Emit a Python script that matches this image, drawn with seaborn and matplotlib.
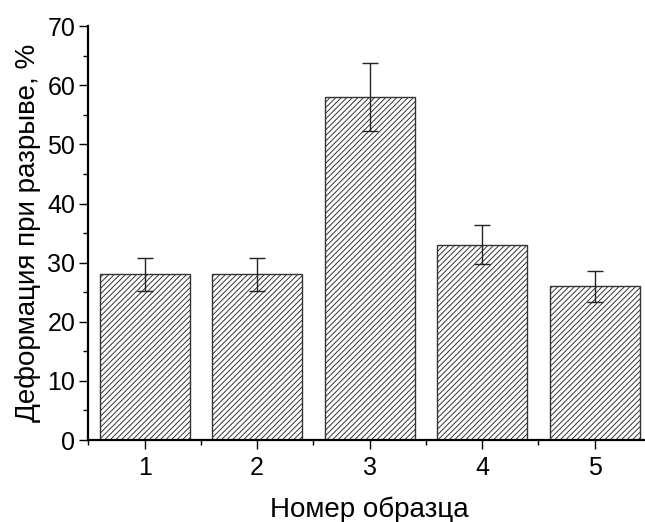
import numpy as np
import matplotlib
matplotlib.use('Agg')
import matplotlib.pyplot as plt
from matplotlib.ticker import MultipleLocator, FixedLocator
import seaborn as sns

# Data
samples = [1, 2, 3, 4, 5]
strain = [28, 28, 58, 33, 26]
strain_err = [2.8, 2.8, 5.8, 3.3, 2.6]

sns.set_style('ticks')
plt.rcParams['font.family'] = ['Liberation Sans', 'DejaVu Sans']
plt.rcParams['hatch.linewidth'] = 0.7
plt.rcParams['hatch.color'] = '#222222'

fig = plt.figure(figsize=(6.45, 5.22), dpi=100)
ax = fig.add_axes([0.137, 0.157, 0.872, 0.793])

sns.barplot(x=samples, y=strain, native_scale=True, width=0.8,
            color='white', edgecolor='#333333', linewidth=1.0,
            hatch='//////', errorbar=None, ax=ax)
ax.errorbar(samples, strain, yerr=strain_err, fmt='none',
            ecolor='#222222', elinewidth=1.0, capsize=6, capthick=1.0)

ax.set_xlim(0.5, 5.5)
ax.set_ylim(0, 70)
ax.xaxis.set_major_locator(FixedLocator(samples))
ax.xaxis.set_minor_locator(FixedLocator([0.5, 1.5, 2.5, 3.5, 4.5, 5.5]))
ax.yaxis.set_major_locator(MultipleLocator(10))
ax.yaxis.set_minor_locator(MultipleLocator(5))
ax.set_xticklabels([str(s) for s in samples])

ax.tick_params(which='major', length=6.5, width=1.0, labelsize=18,
               color='black', labelcolor='black')
ax.tick_params(which='minor', length=3.5, width=1.0, color='black')
ax.tick_params(axis='x', pad=5)
ax.tick_params(axis='y', pad=3)

for side in ['left', 'bottom']:
    ax.spines[side].set_linewidth(1.6)
    ax.spines[side].set_color('black')
sns.despine(ax=ax)

ax.set_xlabel('Номер образца', fontsize=20, color='black')
ax.set_ylabel('Деформация при разрыве, %', fontsize=20, color='black')
ax.xaxis.set_label_coords(0.5, -0.136)
ax.yaxis.set_label_coords(-0.085, 0.5)

fig.savefig('out.png', dpi=100)
